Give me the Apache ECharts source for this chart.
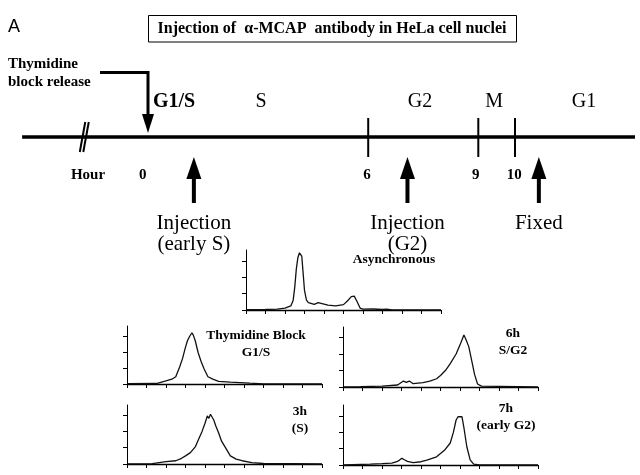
<!DOCTYPE html>
<html><head><meta charset="utf-8">
<script src="https://cdn.jsdelivr.net/npm/echarts@6/dist/echarts.min.js"></script>
<style>html,body{margin:0;padding:0;background:#fff}#c{width:640px;height:475px}</style>
</head><body><div id="c"></div><script>
// ---------- timeline data (hours) ----------
const timelineStart = -3.43, timelineEnd = 13.27;
const phaseLabels = ['G1/S', 'S', 'G2', 'M', 'G1'];
const phaseHours = [0.71, 3.08, 7.41, 9.43, 11.88];
const tickHours = [6, 9, 10];
const hourTickLabels = ['0', '6', '9', '10'];
const hourTickLabelHours = [-0.14, 5.97, 8.93, 9.98];
const arrowHours = [1.25, 7.07, 10.65];
const arrowLabels = ['Injection\n(early S)', 'Injection\n(G2)', 'Fixed'];
const releaseHour = 0;
const breakHour = -1.75;

// ---------- histogram data (channel units 0..10, counts in tick units) ----------
const asyncX = [0, 1.0, 1.6, 2.0, 2.3, 2.42, 2.5, 2.58, 2.66, 2.74, 2.8, 2.86, 2.92, 3.0, 3.1, 3.2, 3.5, 3.7, 3.8, 4.2, 4.6, 5.0, 5.2, 5.4, 5.55, 5.7, 5.85, 6.0, 6.5, 7.0, 7.2, 7.5, 10];
const asyncY = [0.02, 0.03, 0.05, 0.12, 0.25, 0.6, 1.4, 2.5, 3.2, 3.5, 3.58, 3.3, 2.4, 1.2, 0.6, 0.45, 0.35, 0.45, 0.33, 0.3, 0.25, 0.33, 0.55, 0.82, 0.85, 0.5, 0.12, 0.05, 0.06, 0.03, 0.05, 0.01, 0];
const thyX = [0, 1.5, 1.6, 2.0, 2.3, 2.5, 2.7, 2.85, 3.0, 3.1, 3.2, 3.27, 3.33, 3.4, 3.5, 3.65, 3.8, 3.95, 4.15, 4.4, 4.7, 5.3, 6.3, 7, 10];
const thyY = [0.02, 0.03, 0.08, 0.19, 0.3, 0.45, 1.06, 1.6, 2.3, 2.7, 2.95, 3.05, 3.2, 3.05, 2.7, 1.95, 1.4, 0.95, 0.45, 0.3, 0.17, 0.12, 0.05, 0.01, 0];
const h3X = [0, 1.3, 1.4, 2.0, 2.5, 2.8, 3.0, 3.25, 3.5, 3.7, 3.85, 4.0, 4.12, 4.2, 4.28, 4.36, 4.45, 4.55, 4.7, 4.85, 5.05, 5.3, 5.6, 5.9, 6.4, 7, 10];
const h3Y = [0.01, 0.02, 0.13, 0.15, 0.2, 0.35, 0.5, 0.7, 1.05, 1.6, 2.0, 2.5, 2.95, 2.8, 3.05, 3.0, 2.7, 2.35, 1.9, 1.4, 1.0, 0.5, 0.3, 0.2, 0.08, 0.03, 0];
const h6X = [0, 0.9, 1.0, 2.0, 2.8, 2.95, 3.1, 3.25, 3.4, 3.6, 4.1, 4.45, 4.8, 5.0, 5.25, 5.5, 5.8, 6.05, 6.2, 6.3, 6.45, 6.6, 6.75, 6.9, 7.1, 8, 9, 10];
const h6Y = [0, 0.02, 0.05, 0.05, 0.12, 0.24, 0.36, 0.28, 0.36, 0.2, 0.27, 0.35, 0.5, 0.7, 1.0, 1.42, 2.0, 2.7, 3.15, 2.9, 2.45, 1.6, 0.75, 0.18, 0.05, 0.04, 0.02, 0];
const h7X = [0, 1.4, 2.0, 2.5, 2.76, 2.9, 3.02, 3.15, 3.3, 3.6, 4.0, 4.3, 4.8, 5.2, 5.5, 5.66, 5.8, 5.9, 6.0, 6.1, 6.2, 6.35, 6.52, 6.7, 7, 10];
const h7Y = [0, 0.05, 0.08, 0.12, 0.2, 0.3, 0.41, 0.32, 0.22, 0.14, 0.2, 0.3, 0.5, 0.9, 1.35, 2.0, 2.76, 2.96, 2.98, 2.96, 2.3, 1.12, 0.31, 0.05, 0.01, 0];
const panelLabels = ['Asynchronous', 'Thymidine Block\nG1/S', '3h\n(S)', '6h\nS/G2', '7h\n(early G2)'];
const yTickValues = [0, 1, 2, 3];

const panels = [
  {x: asyncX, y: asyncY, grid: {left: 246, top: 250, width: 195, height: 60}, ymax: 3.67, label: [394, 260]},
  {x: thyX, y: thyY, grid: {left: 127, top: 326, width: 195, height: 58}, ymax: 3.62, label: [256, 344]},
  {x: h3X, y: h3Y, grid: {left: 127, top: 405, width: 195, height: 59}, ymax: 3.62, label: [300, 420]},
  {x: h6X, y: h6Y, grid: {left: 343, top: 327, width: 195, height: 60}, ymax: 3.64, label: [513, 342]},
  {x: h7X, y: h7Y, grid: {left: 343, top: 405, width: 195, height: 60}, ymax: 3.68, label: [506, 417]}
];

const SERIF = '"Liberation Serif", "Times New Roman", serif';
const chart = echarts.init(document.getElementById('c'), null, {renderer: 'canvas'});

const pxPerHour = 36.7, zeroPx = 148;
const grids = [{left: 0, top: 0, width: 640, height: 274}];
const xAxes = [{type: 'value', gridIndex: 0, min: -zeroPx / pxPerHour, max: (640 - zeroPx) / pxPerHour, show: false}];
const yAxes = [{type: 'value', gridIndex: 0, min: -1, max: 1, show: false}];
const series = [];

// timeline main line
series.push({type: 'line', xAxisIndex: 0, yAxisIndex: 0, data: [[timelineStart, 0], [timelineEnd, 0]],
  symbol: 'none', lineStyle: {color: '#000', width: 3.5}, silent: true});

function txt(x, y, text, font, align, vAlign, lh) {
  return {type: 'text', x: x, y: y, style: {text: text, font: font, fill: '#000',
    align: align || 'center', verticalAlign: vAlign || 'middle', lineHeight: lh || 20}};
}

// ticks 6, 9, 10
series.push({type: 'custom', xAxisIndex: 0, yAxisIndex: 0, data: tickHours.map(h => [h, 0]),
  renderItem: (p, api) => {
    const c = api.coord([api.value(0), 0]);
    return {type: 'line', shape: {x1: c[0], y1: c[1] - 19, x2: c[0], y2: c[1] + 20}, style: {stroke: '#000', lineWidth: 2}};
  }});
// hour labels
series.push({type: 'custom', xAxisIndex: 0, yAxisIndex: 0, data: hourTickLabelHours.map(h => [h, 0]),
  renderItem: (p, api) => {
    const c = api.coord([api.value(0), 0]);
    return txt(c[0], c[1] + 38, hourTickLabels[p.dataIndex], 'bold 15px ' + SERIF);
  }});
series.push({type: 'custom', xAxisIndex: 0, yAxisIndex: 0, data: [[releaseHour, 0]],
  renderItem: (p, api) => {
    const c = api.coord([api.value(0), 0]);
    return txt(c[0] - 60, c[1] + 38, 'Hour', 'bold 15px ' + SERIF);
  }});
// phase labels
series.push({type: 'custom', xAxisIndex: 0, yAxisIndex: 0, data: phaseHours.map(h => [h, 0]),
  renderItem: (p, api) => {
    const c = api.coord([api.value(0), 0]);
    const bold = p.dataIndex === 0;
    return txt(c[0], c[1] - 35, phaseLabels[p.dataIndex], (bold ? 'bold ' : '') + '20px ' + SERIF);
  }});
// up arrows with labels
series.push({type: 'custom', xAxisIndex: 0, yAxisIndex: 0, data: arrowHours.map(h => [h, 0]),
  renderItem: (p, api) => {
    const c = api.coord([api.value(0), 0]);
    const x = c[0], y0 = c[1];
    return {type: 'group', children: [
      {type: 'line', shape: {x1: x, y1: y0 + 38, x2: x, y2: y0 + 66}, style: {stroke: '#000', lineWidth: 4}},
      {type: 'polygon', shape: {points: [[x, y0 + 20], [x - 7.5, y0 + 42], [x + 7.5, y0 + 42]]}, style: {fill: '#000'}},
      txt(x, y0 + 76, arrowLabels[p.dataIndex], '21px ' + SERIF, 'center', 'top', 21)
    ]};
  }});
// thymidine block release arrow
series.push({type: 'custom', xAxisIndex: 0, yAxisIndex: 0, data: [[releaseHour, 0]],
  renderItem: (p, api) => {
    const c = api.coord([api.value(0), 0]);
    const x = c[0], y0 = c[1];
    return {type: 'group', children: [
      {type: 'polyline', shape: {points: [[x - 48, y0 - 64.5], [x, y0 - 64.5], [x, y0 - 20]]}, style: {stroke: '#000', lineWidth: 3, fill: null}},
      {type: 'polygon', shape: {points: [[x, y0 - 4], [x - 6, y0 - 23], [x + 6, y0 - 23]]}, style: {fill: '#000'}},
      txt(8, y0 - 73, 'Thymidine', 'bold 15px ' + SERIF, 'left'),
      txt(8, y0 - 55, 'block release', 'bold 15px ' + SERIF, 'left')
    ]};
  }});
// break mark
series.push({type: 'custom', xAxisIndex: 0, yAxisIndex: 0, data: [[breakHour, 0]],
  renderItem: (p, api) => {
    const c = api.coord([api.value(0), 0]);
    const x = c[0], y0 = c[1];
    return {type: 'group', children: [
      {type: 'line', shape: {x1: x - 4, y1: y0 + 15, x2: x + 1.5, y2: y0 - 15}, style: {stroke: '#000', lineWidth: 2}},
      {type: 'line', shape: {x1: x - 0.5, y1: y0 + 15, x2: x + 5, y2: y0 - 15}, style: {stroke: '#000', lineWidth: 2}}
    ]};
  }});

// histograms
const graphicEls = [];
panels.forEach((pn, i) => {
  const gi = i + 1;
  grids.push(Object.assign({}, pn.grid));
  xAxes.push({type: 'value', gridIndex: gi, min: 0, max: 10, interval: 1,
    axisLine: {show: true, onZero: false, lineStyle: {color: '#000', width: 1.3}},
    axisTick: {show: true, length: 4, lineStyle: {color: '#000', width: 1}},
    axisLabel: {show: false}, splitLine: {show: false}});
  yAxes.push({type: 'value', gridIndex: gi, min: 0, max: pn.ymax,
    axisLine: {show: true, lineStyle: {color: '#000', width: 1}},
    axisTick: {show: true, length: 4, customValues: yTickValues, lineStyle: {color: '#000', width: 1}},
    axisLabel: {show: false}, splitLine: {show: false}});
  series.push({type: 'line', xAxisIndex: gi, yAxisIndex: gi,
    data: pn.x.map((v, k) => [v, pn.y[k]]), symbol: 'none', silent: true,
    lineStyle: {color: '#111', width: 1.3}});
  graphicEls.push({type: 'text', x: pn.label[0], y: pn.label[1],
    style: {text: panelLabels[i], font: 'bold 13.5px ' + SERIF, fill: '#000', align: 'center', verticalAlign: 'middle', lineHeight: 17}});
});

graphicEls.push({type: 'text', x: 8, y: 27, style: {text: 'A', font: '18px "Liberation Sans", Arial, sans-serif', fill: '#000', align: 'left', verticalAlign: 'middle'}});
graphicEls.push({type: 'rect', shape: {x: 148.5, y: 15.5, width: 368, height: 26.5}, style: {fill: '#fff', stroke: '#000', lineWidth: 1}});
graphicEls.push({type: 'text', x: 332, y: 29, style: {text: 'Injection of  \u03b1-MCAP  antibody in HeLa cell nuclei', font: 'bold 16px ' + SERIF, fill: '#000', align: 'center', verticalAlign: 'middle'}});

chart.setOption({
  animation: false,
  backgroundColor: '#fff',
  grid: grids, xAxis: xAxes, yAxis: yAxes, series: series,
  graphic: {elements: graphicEls}
});
</script></body></html>
